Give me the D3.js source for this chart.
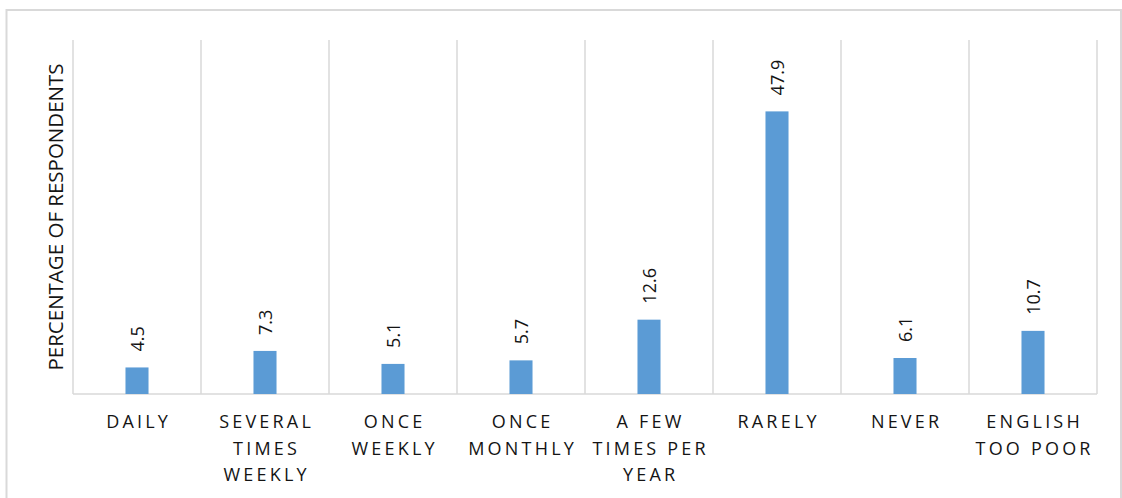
<!DOCTYPE html>
<html>
<head>
<meta charset="utf-8">
<script src="https://cdn.jsdelivr.net/npm/d3@7/dist/d3.min.js"></script>
<style>
  html, body { margin: 0; padding: 0; background: #fff; }
  svg { display: block; font-family: "Open Sans", "Noto Sans", sans-serif; }
</style>
</head>
<body>
<svg id="chart" width="1122" height="498"></svg>
<script>
// Frequency of use, share of respondents (%)
const categories = [
  "DAILY",
  "SEVERAL\nTIMES\nWEEKLY",
  "ONCE\nWEEKLY",
  "ONCE\nMONTHLY",
  "A FEW\nTIMES PER\nYEAR",
  "RARELY",
  "NEVER",
  "ENGLISH\nTOO POOR"
];
const values = [4.5, 7.3, 5.1, 5.7, 12.6, 47.9, 6.1, 10.7];
const yDomain = [0, 60];
const yTitle = "PERCENTAGE OF RESPONDENTS";

const svg = d3.select("#chart");
const plot = { left: 73, right: 1097, top: 40, bottom: 394 };
const grid = "#d9d9d9";
const ink = "#141414";

// outer chart frame
svg.append("rect")
  .attr("x", 6.5).attr("y", 10)
  .attr("width", 1121 - 6.5).attr("height", 520)
  .attr("fill", "none").attr("stroke", grid).attr("stroke-width", 2);

const x = d3.scaleBand().domain(categories).range([plot.left, plot.right]).padding(0);
const y = d3.scaleLinear().domain(yDomain).range([plot.bottom, plot.top]);

// vertical separators between categories
const bounds = categories.map(c => x(c)).concat([plot.right]);
svg.append("g").selectAll("line").data(bounds).join("line")
  .attr("x1", d => d).attr("x2", d => d)
  .attr("y1", y(yDomain[1])).attr("y2", y(0))
  .attr("stroke", grid).attr("stroke-width", 1.5);

// baseline
svg.append("line")
  .attr("x1", plot.left).attr("x2", plot.right)
  .attr("y1", y(0)).attr("y2", y(0))
  .attr("stroke", grid).attr("stroke-width", 1.5);

const barW = x.bandwidth() * 0.18;
const data = categories.map((c, i) => ({ c, v: values[i] }));

svg.append("g").selectAll("rect").data(data).join("rect")
  .attr("x", d => x(d.c) + x.bandwidth() / 2 - barW / 2)
  .attr("y", d => y(d.v))
  .attr("width", barW)
  .attr("height", d => y(0) - y(d.v))
  .attr("fill", "#5b9bd5");

// value labels, rotated above each bar
svg.append("g").selectAll("text").data(data).join("text")
  .attr("transform", d => `translate(${x(d.c) + x.bandwidth() / 2 + 7},${y(d.v) - 16}) rotate(-90)`)
  .attr("text-anchor", "start")
  .attr("font-size", 18)
  .attr("fill", ink)
  .text(d => d.v.toFixed(1));

// category labels, multi-line with letter spacing
const ls = 3.2;
const xl = svg.append("g").selectAll("text").data(categories).join("text")
  .attr("text-anchor", "middle")
  .attr("font-size", 18)
  .attr("letter-spacing", ls)
  .attr("fill", ink)
  .attr("transform", d => `translate(${x(d) + x.bandwidth() / 2 + ls / 2},428)`);
xl.selectAll("tspan").data(d => d.split("\n")).join("tspan")
  .attr("x", 0)
  .attr("y", (d, i) => i * 26.7)
  .text(d => d);

// y-axis title
svg.append("text")
  .attr("transform", `translate(63,${(plot.top + plot.bottom) / 2}) rotate(-90)`)
  .attr("text-anchor", "middle")
  .attr("font-size", 20.5)
  .attr("fill", ink)
  .text(yTitle);
</script>
</body>
</html>
